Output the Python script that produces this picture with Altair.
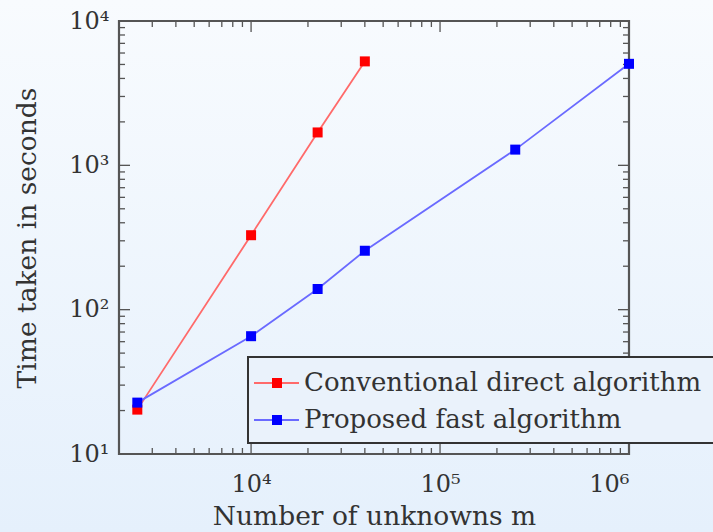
import altair as alt
import pandas as pd

# ---- data ----
series_names = ["Conventional direct algorithm", "Proposed fast algorithm"]
series_colors = ["#ff0000", "#0000ff"]
line_colors = ["#ff6a6a", "#6a6aff"]
conv_m = [2500, 10000, 22500, 40000]
conv_t = [20.3, 328, 1690, 5250]
fast_m = [2500, 10000, 22500, 40000, 250000, 1000000]
fast_t = [22.7, 65.5, 139, 256, 1285, 5050]
x_major = [1e4, 1e5, 1e6]
y_major = [10, 100, 1000, 10000]
x_domain = [2000, 1e6]
y_domain = [10, 1e4]

W, H = 510, 433
PADL, PADT = 119, 21
FONT = "DejaVu Serif"
AX = "#555555"

x_minor = [k * 10 ** e for e in (3, 4, 5) for k in range(2, 10)
           if x_domain[0] < k * 10 ** e < x_domain[1]]
y_minor = [k * 10 ** e for e in (1, 2, 3) for k in range(2, 10)]

xs = alt.Scale(type="log", domain=x_domain, nice=False)
ys = alt.Scale(type="log", domain=y_domain, nice=False)

sup = "substring('⁰¹²³⁴⁵⁶', round(log(datum.value)/LN10), round(log(datum.value)/LN10)+1)"

x_axis = alt.Axis(values=x_major, labelExpr="'10' + " + sup, ticks=False,
                  domain=False, grid=False, labelFont=FONT, labelFontSize=24,
                  labelColor="#333", labelPadding=18, zindex=2,
                  title="Number of unknowns m", titleFont=FONT,
                  titleFontSize=26.5, titleFontWeight="normal",
                  titleColor="#333", titlePadding=7)
y_axis = alt.Axis(values=y_major, labelExpr="'10' + " + sup, ticks=False,
                  domain=False, grid=False, labelFont=FONT, labelFontSize=24,
                  labelColor="#333", labelPadding=10, zindex=2,
                  title="Time taken in seconds", titleFont=FONT,
                  titleFontSize=26.5, titleFontWeight="normal",
                  titleColor="#333", titlePadding=27)

one = pd.DataFrame({"k": [0]})

bg = alt.Chart(one).mark_rect(
    color=alt.LinearGradient(
        gradient="linear", x1=0, x2=0, y1=0, y2=1,
        stops=[alt.GradientStop(color="#f8fbfe", offset=0),
               alt.GradientStop(color="#e5f0fc", offset=1)])
).encode(x=alt.value(-PADL), x2=alt.value(713 - PADL),
         y=alt.value(-PADT), y2=alt.value(532 - PADT))

series_layers = []
for name, ms, ts, c, lc in [(series_names[0], conv_m, conv_t, series_colors[0], line_colors[0]),
                            (series_names[1], fast_m, fast_t, series_colors[1], line_colors[1])]:
    d = pd.DataFrame({"m": ms, "t": ts, "series": name})
    enc = dict(x=alt.X("m:Q", scale=xs, axis=x_axis, title="Number of unknowns m"),
               y=alt.Y("t:Q", scale=ys, axis=y_axis, title="Time taken in seconds"))
    series_layers.append(alt.Chart(d).mark_line(strokeWidth=1.8, color=lc).encode(**enc))
    series_layers.append(alt.Chart(d).mark_square(size=100, opacity=1, filled=True, color=c).encode(**enc))


def xticks(vals, length):
    d = pd.DataFrame({"m": vals})
    base = alt.Chart(d).mark_rule(color=AX, strokeWidth=1.3)
    xe = alt.X("m:Q", scale=xs, axis=x_axis, title="Number of unknowns m")
    bot = base.encode(x=xe, y=alt.value(H), y2=alt.value(H - length))
    top = base.encode(x=xe, y=alt.value(0), y2=alt.value(length))
    return [bot, top]


def yticks(vals, length):
    d = pd.DataFrame({"t": vals})
    base = alt.Chart(d).mark_rule(color=AX, strokeWidth=1.3)
    ye = alt.Y("t:Q", scale=ys, axis=y_axis, title="Time taken in seconds")
    left = base.encode(y=ye, x=alt.value(0), x2=alt.value(length))
    right = base.encode(y=ye, x=alt.value(W), x2=alt.value(W - length))
    return [left, right]


ticks = xticks(x_major, 11) + xticks(x_minor, 6) + yticks(y_major, 11) + yticks(y_minor, 6)

frame = alt.Chart(one).mark_rect(fill=None, stroke=AX, strokeWidth=2.2).encode(
    x=alt.value(0), x2=alt.value(W), y=alt.value(0), y2=alt.value(H))

# ---- legend box ----
LX, LY, LB = 129, 336, 422
leg_box = alt.Chart(one).mark_rect(fill="#eaf2fb", stroke="#333333", strokeWidth=2).encode(
    x=alt.value(LX), x2=alt.value(713 - PADL + 10), y=alt.value(LY), y2=alt.value(LB))

leg = []
for i, (name, c, lc) in enumerate(zip(series_names, series_colors, line_colors)):
    yy = 362 + i * 37
    d = pd.DataFrame({"label": [name]})
    leg.append(alt.Chart(d).mark_rule(color=lc, strokeWidth=1.8).encode(
        x=alt.value(LX + 6), x2=alt.value(LX + 51), y=alt.value(yy)))
    leg.append(alt.Chart(d).mark_square(size=100, color=c, opacity=1, filled=True).encode(
        x=alt.value(LX + 29), y=alt.value(yy)))
    leg.append(alt.Chart(d).mark_text(align="left", baseline="middle", font=FONT,
                                      fontSize=26, color="#333").encode(
        x=alt.value(LX + 56), y=alt.value(yy), text="label:N"))

chart = alt.layer(bg, *ticks, frame, *series_layers, leg_box, *leg).properties(
    width=W, height=H,
    autosize=alt.AutoSizeParams(type="none"),
    padding={"left": PADL, "top": PADT, "right": 713 - PADL - W, "bottom": 532 - PADT - H},
    background="#eef5fc",
).configure_view(stroke=None)

chart.save("out.html", embed_options={"renderer": "svg", "actions": False})
